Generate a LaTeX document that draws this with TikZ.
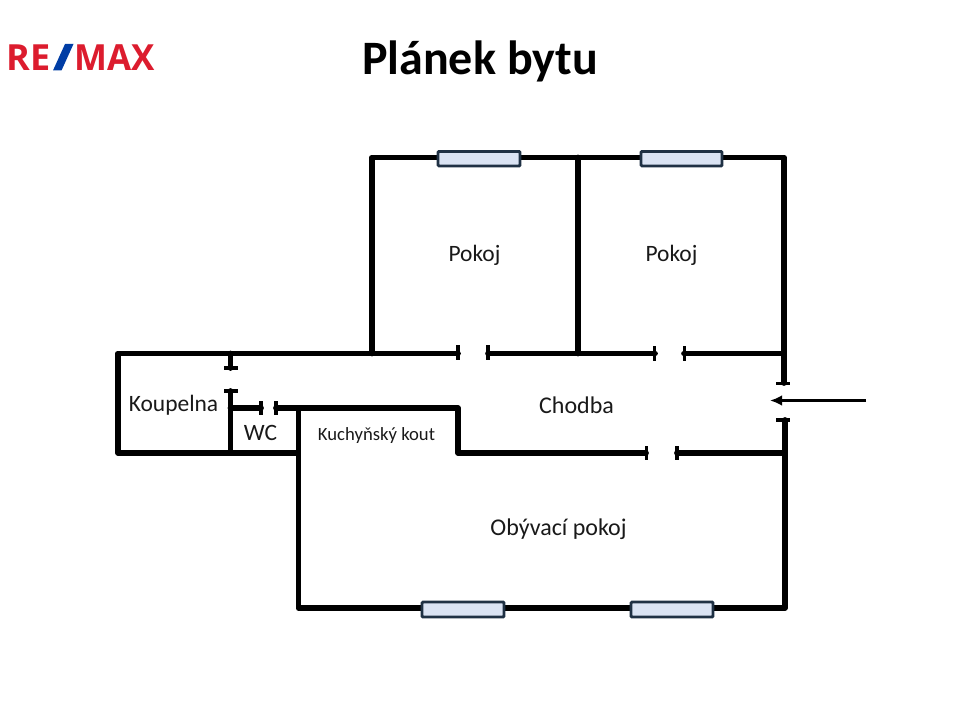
\documentclass[tikz,border=0pt]{standalone}
\usepackage{fontspec}
\usetikzlibrary{arrows.meta}
\setmainfont{Carlito}
\newfontfamily\logofont{Open Sans}
\definecolor{winfill}{HTML}{DAE3F3}
\definecolor{winline}{HTML}{1F3144}
\definecolor{logored}{HTML}{DC1C2E}
\definecolor{logoblue}{HTML}{003DA5}
\tikzset{
  wall/.style={line width=4.3pt,line cap=round,line join=round,black},
  tick/.style={line width=2.3pt,black},
  window/.style={draw=winline,fill=winfill,line width=2.2pt,rounded corners=0.8pt},
  room/.style={inner sep=0pt,font=\fontsize{17.6}{20}\selectfont,text=black!90},
  wideroom/.style={inner sep=0pt,font=\fontsize{18}{20}\selectfont,text=black!90},
  smallroom/.style={inner sep=0pt,font=\fontsize{14}{16}\selectfont,text=black!90},
  logotext/.style={inner sep=0pt,text=logored,font=\logofont\bfseries\fontsize{27}{29}\selectfont}
}
\begin{document}
\begin{tikzpicture}[x=0.75pt,y=-0.75pt]
\useasboundingbox (0,0) rectangle (960,720);
% logo
\node[logotext,anchor=base west] (logoa) at (6,70.5) {RE};
\fill[logoblue] (53,70.5) -- (65,44) -- (73.5,44) -- (61.5,70.5) -- cycle;
\node[logotext,anchor=base east,xscale=0.97] (logob) at (155,70.5) {MAX};
% title
\node[inner sep=0pt,font=\bfseries\fontsize{36}{40}\selectfont] (title) at (480,61) {Plánek bytu};
% walls
\draw[wall] (372,353.5) -- (372,157.5) -- (784,157.5) -- (784,383);
\draw[wall] (578,157.5) -- (578,353.5);
\draw[wall] (458,353.5) -- (118,353.5) -- (118,453) -- (298,453);
\draw[wall] (488,353.5) -- (655,353.5);
\draw[wall] (684,353.5) -- (784,353.5);
\draw[wall] (230.5,353.5) -- (230.5,368);
\draw[wall] (230.5,391) -- (230.5,453);
\draw[wall] (230.5,408) -- (261,408);
\draw[wall] (276,408) -- (458,408) -- (458,453) -- (646,453);
\draw[wall] (677,453) -- (785,453);
\draw[wall] (785,420) -- (785,608) -- (298.5,608) -- (298.5,408);
% door ticks
\draw[tick] (458,345) -- (458,360);
\draw[tick] (488,345) -- (488,360);
\draw[tick] (654.5,346) -- (654.5,361);
\draw[tick] (684.5,346) -- (684.5,361);
\draw[tick] (646.5,446) -- (646.5,460);
\draw[tick] (677,446) -- (677,460);
\draw[tick] (261,401) -- (261,415);
\draw[tick] (276,401) -- (276,415);
\draw[tick] (224,368) -- (238,368);
\draw[tick] (224,391) -- (238,391);
\draw[tick] (776,383.5) -- (790,383.5);
\draw[tick] (776,420) -- (790,420);
% windows
\draw[window] (438,151.5) rectangle (520,166);
\draw[window] (641,151.5) rectangle (722,166);
\draw[window] (422,602) rectangle (504,617);
\draw[window] (631,602) rectangle (713,617);
% entrance arrow
\coordinate (arrowstart) at (866,400.5);
\coordinate (arrowend) at (770,400.5);
\draw[line width=1.9pt,black,-{Latex[length=9pt,width=8pt]}] (arrowstart) -- (arrowend);
% labels
\node[room] (pokoja) at (474.5,255.5) {Pokoj};
\node[room] (pokojb) at (671.5,255.5) {Pokoj};
\node[room] (koupelna) at (173.5,405.5) {Koupelna};
\node[room] (wc) at (260.5,432.5) {WC};
\node[smallroom] (kuchyn) at (376.5,436) {Kuchyňský kout};
\node[wideroom] (chodba) at (576.5,405.5) {Chodba};
\node[wideroom] (obyvak) at (558.5,529.5) {Obývací pokoj};
\end{tikzpicture}
\end{document}
